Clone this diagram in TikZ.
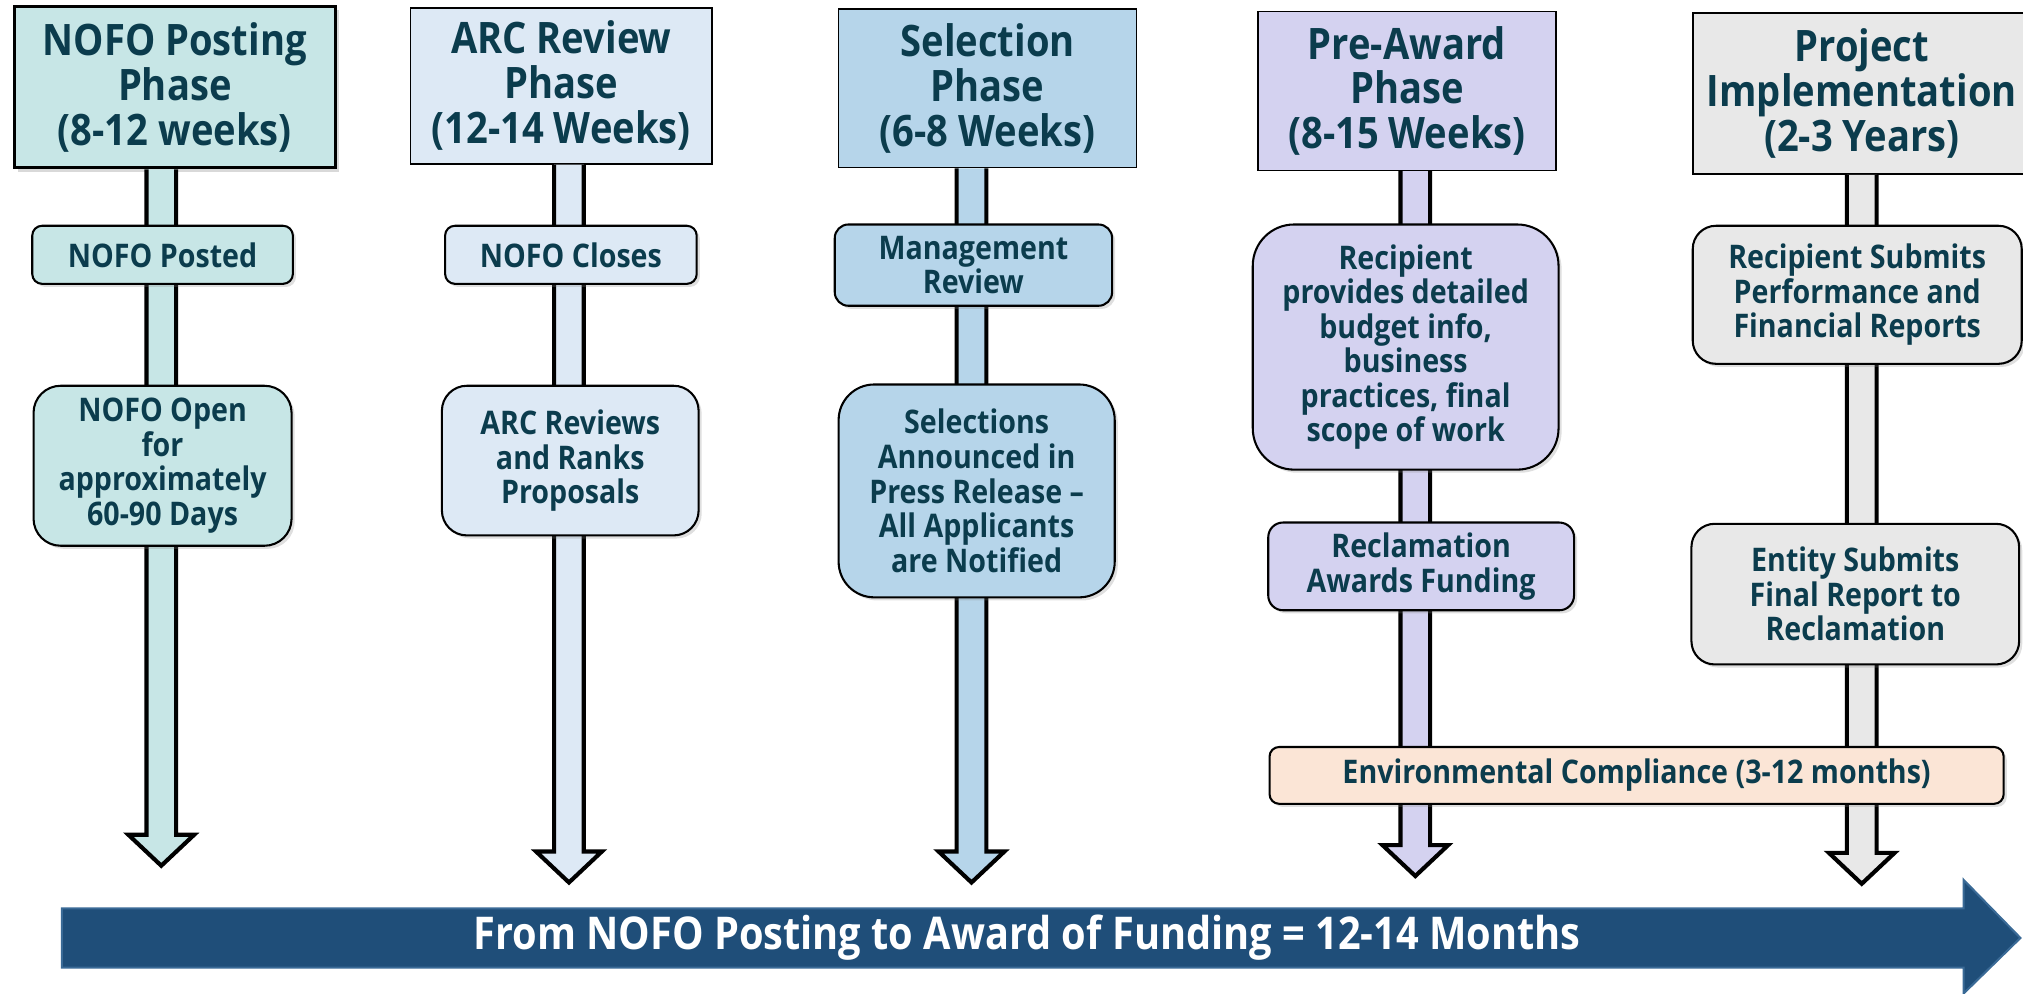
\documentclass[tikz,border=0pt]{standalone}
\usepackage{fontspec}
\setmainfont{Open Sans}[FakeStretch=0.88]
\usetikzlibrary{calc,shadows}
\definecolor{ink}{HTML}{0B3C4D}
\definecolor{postfill}{HTML}{C7E6E6}
\definecolor{arcfill}{HTML}{DDE9F5}
\definecolor{selfill}{HTML}{B6D5EA}
\definecolor{prefill}{HTML}{D4D2F0}
\definecolor{projfill}{HTML}{E8E8E8}
\definecolor{envfill}{HTML}{FBE5D6}
\definecolor{spanfill}{HTML}{1F4E79}
\definecolor{spanedge}{HTML}{3A6A96}
\tikzset{
  phase/.style={draw=black,line width=0.6pt,align=center,text=ink,inner sep=1pt,
    font=\fontsize{16.8}{17.4}\selectfont\bfseries},
  stepbox/.style={draw=black,line width=0.8pt,align=center,text=ink,inner sep=1pt,
    font=\fontsize{12.6}{13.4}\selectfont\bfseries,
    drop shadow={opacity=0.25,shadow xshift=1.2pt,shadow yshift=-1.2pt}},
}
\def\stepnode{\node[stepbox]}
% block arrow from a phase box down to its tip
\newcommand\shaft[3]{%
\draw[line width=1.6pt,fill=#3,line join=miter]
  ($(#1.south -| #2)+(-11.5,0)$) -- ($(#2)+(-11.5,-24)$) -- ($(#2)+(-25.5,-24)$)
  -- (#2) -- ($(#2)+(25.5,-24)$) -- ($(#2)+(11.5,-24)$) -- ($(#1.south -| #2)+(11.5,0)$);}

\begin{document}
\begin{tikzpicture}[x=0.5pt,y=-0.5pt]
\useasboundingbox (0,0) rectangle (1568,770);
% phases
\node[phase,fill=postfill,line width=1.3pt,minimum width=124.5pt,minimum height=62.5pt,
  drop shadow={opacity=0.3,shadow xshift=1.5pt,shadow yshift=-1.5pt}] (post) at (135.5,67.5)
  {NOFO Posting\\Phase\\(8-12 weeks)};
\node[phase,fill=arcfill,minimum width=117pt,minimum height=60.5pt] (arc) at (435,66.5)
  {ARC Review\\Phase\\(12-14 Weeks)};
\node[phase,fill=selfill,minimum width=115.5pt,minimum height=61.5pt] (sel) at (765.5,68.5)
  {Selection\\Phase\\(6-8 Weeks)};
\node[phase,fill=prefill,minimum width=115.5pt,minimum height=61.5pt] (pre) at (1090.5,70.5)
  {Pre-Award\\Phase\\(8-15 Weeks)};
\node[phase,fill=projfill,minimum width=131pt,minimum height=62.5pt] (proj) at (1443,72.5)
  {Project\\Implementation\\(2-3 Years)};
% arrow tips
\coordinate (posttip) at (125,671);
\coordinate (arctip) at (441,684);
\coordinate (seltip) at (753,684);
\coordinate (pretip) at (1097,679);
\coordinate (projtip) at (1443,685);
\shaft{post}{posttip}{postfill}
\shaft{arc}{arctip}{arcfill}
\shaft{sel}{seltip}{selfill}
\shaft{pre}{pretip}{prefill}
\shaft{proj}{projtip}{projfill}
% steps
\stepnode[fill=postfill,minimum width=101pt,minimum height=22.5pt,rounded corners=3.8pt] (posted) at (126,197.5) {NOFO Posted};
\stepnode[fill=postfill,minimum width=100pt,minimum height=62pt,rounded corners=10.5pt] (open) at (126,361) {NOFO Open\\for\\approximately\\60-90 Days};
\stepnode[fill=arcfill,minimum width=97.5pt,minimum height=22.5pt,rounded corners=3.8pt] (closes) at (442.5,197.5) {NOFO Closes};
\stepnode[fill=arcfill,minimum width=99.5pt,minimum height=58pt,rounded corners=9.7pt] (ranks) at (442,357) {ARC Reviews\\and Ranks\\Proposals};
\stepnode[fill=selfill,minimum width=107.5pt,minimum height=31.5pt,rounded corners=5.3pt] (mgmt) at (754.5,205.5) {Management\\Review};
\stepnode[fill=selfill,minimum width=107pt,minimum height=82.5pt,rounded corners=13.8pt] (press) at (757,380.5) {Selections\\Announced in\\Press Release --\\All Applicants\\are Notified};
\stepnode[fill=prefill,minimum width=118.5pt,minimum height=95pt,rounded corners=16pt] (budget) at (1089.5,269) {Recipient\\provides detailed\\budget info,\\business\\practices, final\\scope of work};
\stepnode[fill=prefill,minimum width=118.5pt,minimum height=34pt,rounded corners=5.7pt] (funding) at (1101.5,439) {Reclamation\\Awards Funding};
\stepnode[fill=projfill,minimum width=127.5pt,minimum height=53.5pt,rounded corners=9pt] (reports) at (1439.5,228.5) {Recipient Submits\\Performance and\\Financial Reports};
\stepnode[fill=projfill,minimum width=127pt,minimum height=54.5pt,rounded corners=9pt] (final) at (1438,460.5) {Entity Submits\\Final Report to\\Reclamation};
\stepnode[fill=envfill,minimum width=284.5pt,minimum height=22pt,rounded corners=3.7pt] (env) at (1268.5,601) {Environmental Compliance (3-12 months)};
% overall span
\fill[spanfill,draw=spanedge,line width=0.8pt] (48,704) -- (1522,704) -- (1522,682) -- (1566,727) -- (1522,770) -- (1522,750) -- (48,750) -- cycle;
\node[text=white,font=\fontsize{17.5}{18}\selectfont\bfseries] (span) at (796,727)
  {From NOFO Posting to Award of Funding = 12-14 Months};
\end{tikzpicture}
\end{document}
